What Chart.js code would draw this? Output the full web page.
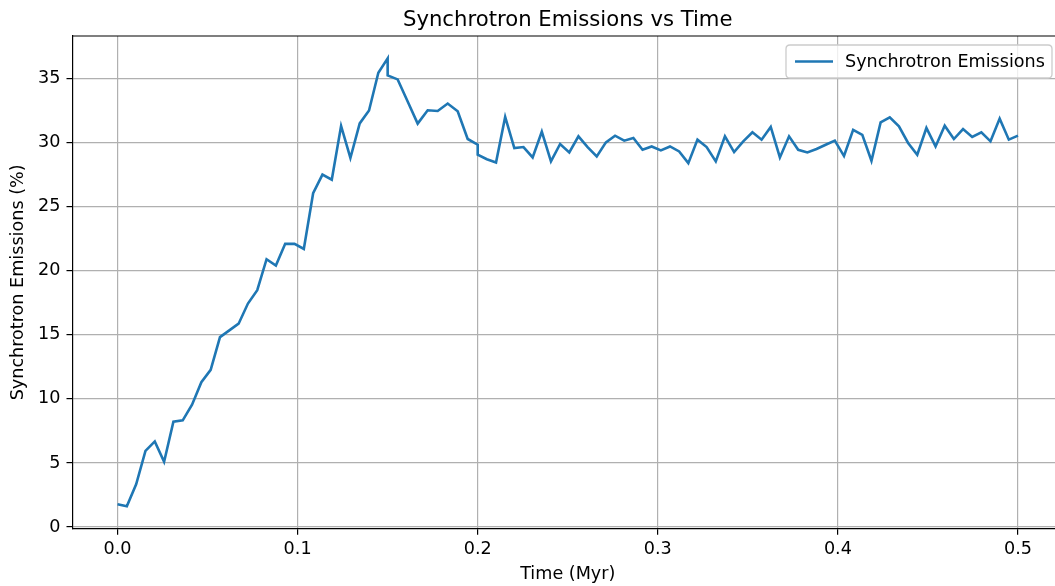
<!DOCTYPE html>
<html>
<head>
<meta charset="utf-8">
<script src="https://cdn.jsdelivr.net/npm/chart.js@4"></script>
<style>
  html, body { margin: 0; padding: 0; background: #fff; overflow: hidden; }
  #wrap { width: 1055px; height: 586px; overflow: hidden; }
  canvas { display: block; }
</style>
</head>
<body>
<div id="wrap"><canvas id="c" width="1064" height="586"></canvas></div>
<script>
// ---- data ----
const chartTitle = "Synchrotron Emissions vs Time";
const xLabel = "Time (Myr)";
const yLabel = "Synchrotron Emissions (%)";
const seriesName = "Synchrotron Emissions";

// time grid: three sampled phases (start, end, number of samples)
const phase1 = [0.0, 0.15, 30];
const phase2 = [0.15, 0.2, 10];
const phase3 = [0.2, 0.5, 60];

const values1 = [1.78, 1.62, 3.34, 5.95, 6.68, 5.09, 8.22, 8.33, 9.55, 11.3,
  12.27, 14.82, 15.35, 15.87, 17.44, 18.48, 20.9, 20.4, 22.1, 22.1,
  21.7, 26.05, 27.5, 27.1, 31.3, 28.8, 31.5, 32.5, 35.45, 36.57];
const values2 = [35.24, 34.93, 33.2, 31.48, 32.52, 32.47, 33.05, 32.45, 30.28, 29.84];
const values3 = [29.05, 28.7, 28.45, 32.0, 29.57, 29.65, 28.84, 30.85, 28.53, 29.89,
  29.23, 30.49, 29.65, 28.92, 30.02, 30.54, 30.15, 30.36, 29.44, 29.7,
  29.39, 29.7, 29.31, 28.4, 30.23, 29.65, 28.53, 30.49, 29.26, 30.1,
  30.8, 30.23, 31.22, 28.84, 30.49, 29.44, 29.23, 29.5, 29.83, 30.15,
  28.95, 31.0, 30.6, 28.58, 31.58, 31.97, 31.27, 29.97, 29.05, 31.14,
  29.7, 31.32, 30.28, 31.06, 30.44, 30.8, 30.1, 31.87, 30.23, 30.54];

const xTicks = [0.0, 0.1, 0.2, 0.3, 0.4, 0.5];
const yTicks = [0, 5, 10, 15, 20, 25, 30, 35];

// ---- build points ----
function grid(p) {
  const [a, b, n] = p, out = [];
  for (let i = 0; i < n; i++) out.push(a + (b - a) * i / (n - 1));
  return out;
}
const times = [].concat(grid(phase1), grid(phase2), grid(phase3));
const vals = [].concat(values1, values2, values3);
const points = times.map((t, i) => ({ x: t, y: vals[i] }));

// matplotlib-like 5% margins
const xmin = Math.min(...times), xmax = Math.max(...times);
const ymin = Math.min(...vals), ymax = Math.max(...vals);
const xm = (xmax - xmin) * 0.05, ym = (ymax - ymin) * 0.05;

const FONT = "'DejaVu Sans', 'Liberation Sans', sans-serif";
const TICK_PX = 17.6;
const TITLE_PX = 21.2;

const framePlugin = {
  id: 'frame',
  afterDraw(chart) {
    const { ctx, chartArea: a } = chart;
    ctx.save();
    // top and right spines
    ctx.strokeStyle = '#000';
    ctx.lineWidth = 1.2;
    ctx.beginPath();
    ctx.moveTo(a.left, a.top); ctx.lineTo(a.right, a.top);
    ctx.moveTo(a.right, a.top); ctx.lineTo(a.right, a.bottom);
    ctx.stroke();
    // title centered over the axes
    ctx.fillStyle = '#000';
    ctx.font = `${TITLE_PX}px ${FONT}`;
    ctx.textAlign = 'center';
    ctx.textBaseline = 'middle';
    ctx.fillText(chartTitle, (a.left + a.right) / 2, 20);
    // legend (upper right)
    const bx = 786, by = 45, bw = 266, bh = 33, r = 4;
    ctx.beginPath();
    ctx.moveTo(bx + r, by);
    ctx.lineTo(bx + bw - r, by); ctx.quadraticCurveTo(bx + bw, by, bx + bw, by + r);
    ctx.lineTo(bx + bw, by + bh - r); ctx.quadraticCurveTo(bx + bw, by + bh, bx + bw - r, by + bh);
    ctx.lineTo(bx + r, by + bh); ctx.quadraticCurveTo(bx, by + bh, bx, by + bh - r);
    ctx.lineTo(bx, by + r); ctx.quadraticCurveTo(bx, by, bx + r, by);
    ctx.closePath();
    ctx.fillStyle = 'rgba(255,255,255,0.8)';
    ctx.fill();
    ctx.strokeStyle = '#cccccc';
    ctx.lineWidth = 1.3;
    ctx.stroke();
    ctx.strokeStyle = '#1f77b4';
    ctx.lineWidth = 2.6;
    ctx.beginPath();
    ctx.moveTo(795, 61.5); ctx.lineTo(833, 61.5);
    ctx.stroke();
    ctx.fillStyle = '#000';
    ctx.font = `${TICK_PX}px ${FONT}`;
    ctx.textAlign = 'left';
    ctx.textBaseline = 'middle';
    ctx.fillText(seriesName, 845, 62);
    ctx.restore();
  }
};

new Chart(document.getElementById('c'), {
  type: 'line',
  data: {
    datasets: [{
      label: seriesName,
      data: points,
      borderColor: '#1f77b4',
      backgroundColor: '#1f77b4',
      borderWidth: 2.6,
      pointRadius: 0,
      tension: 0,
      fill: false
    }]
  },
  options: {
    responsive: false,
    animation: false,
    devicePixelRatio: 1,
    layout: { padding: { top: 36, right: 1, left: 0, bottom: 0 } },
    plugins: {
      legend: { display: false },
      title: { display: false },
      tooltip: { enabled: false }
    },
    scales: {
      x: {
        type: 'linear',
        min: xmin - xm,
        max: xmax + xm,
        afterBuildTicks: s => { s.ticks = xTicks.map(v => ({ value: v })); },
        afterFit: s => { s.height = 57.3; },
        grid: { color: '#b0b0b0', lineWidth: 1.2, drawTicks: true, tickLength: 6, tickColor: '#000', tickWidth: 1.2 },
        border: { display: true, color: '#000', width: 1.2 },
        ticks: {
          color: '#000', padding: 4, maxRotation: 0, autoSkip: false,
          font: { family: FONT, size: TICK_PX },
          callback: v => Number(v).toFixed(1)
        },
        title: { display: true, text: xLabel, color: '#000', font: { family: FONT, size: TICK_PX }, padding: { top: 2, bottom: 1.5 } }
      },
      y: {
        type: 'linear',
        min: ymin - ym,
        max: ymax + ym,
        afterBuildTicks: s => { s.ticks = yTicks.map(v => ({ value: v })); },
        afterFit: s => { s.width = 72.5; },
        grid: { color: '#b0b0b0', lineWidth: 1.2, drawTicks: true, tickLength: 6, tickColor: '#000', tickWidth: 1.2 },
        border: { display: true, color: '#000', width: 1.2 },
        ticks: {
          color: '#000', padding: 6, autoSkip: false,
          font: { family: FONT, size: TICK_PX },
          callback: v => String(v)
        },
        title: { display: true, text: yLabel, color: '#000', font: { family: FONT, size: TICK_PX }, padding: { top: 7.5, bottom: 2 } }
      }
    }
  },
  plugins: [framePlugin]
});
</script>
</body>
</html>
